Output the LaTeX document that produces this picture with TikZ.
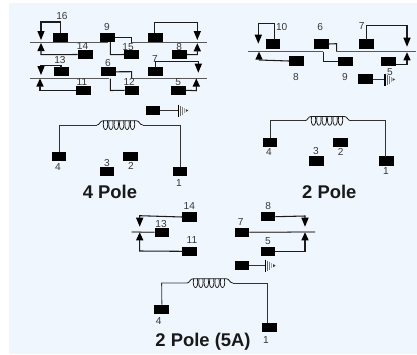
\documentclass[tikz,border=0pt]{standalone}
\usepackage{fontspec}
\setmainfont{Liberation Sans}
\definecolor{bgc}{HTML}{EFF6FD}
\definecolor{wire}{HTML}{1C1C1C}
\tikzset{
  x=0.75pt,y=-0.75pt,
  blk/.style={fill=black,draw=none,minimum width=11.2pt,minimum height=7pt,inner sep=0pt,outer sep=0pt},
  lab/.style={font=\fontsize{7.6pt}{8pt}\selectfont,text=black!78,inner sep=0pt},
  ttl/.style={font=\bfseries\fontsize{13.8pt}{15pt}\selectfont,text=black!90,inner sep=0pt},
  wr/.style={draw=wire,line width=0.8pt},
  lead/.style={draw=black!80,line width=0.7pt},
  bar/.style={draw=black!65,line width=0.95pt}
}
\newcommand{\dn}[2]{\fill[black] (#1-3.7,#2-9) -- (#1+3.7,#2-9) -- (#1,#2) -- cycle;}
\newcommand{\up}[2]{\fill[black] (#1-3.7,#2+8) -- (#1+3.7,#2+8) -- (#1,#2) -- cycle;}
\newcommand{\gnd}[2]{%
  \draw[black,line width=0.95pt] (#1,#2-6) -- (#1,#2+6);
  \draw[black!60,line width=0.6pt] (#1+2,#2-5) -- (#1+2,#2+5);
  \draw[black!50,line width=0.6pt] (#1+4,#2-4) -- (#1+4,#2+4);
  \draw[black!35,line width=0.6pt] (#1+6,#2-2.5) -- (#1+6,#2+2.5);
  \fill[black!75] (#1+7.5,#2-1.5) -- (#1+10,#2) -- (#1+7.5,#2+1.5) -- cycle;}
\newcommand{\coil}[2]{%
  \draw[wire,line width=0.6pt] (#1,#2) .. controls (#1+3,#2) and (#1+2.5,#2-4.3) .. (#1+6.5,#2-4.3)
    -- (#1+39,#2-4.3) .. controls (#1+43,#2-4.3) and (#1+42,#2) .. (#1+46,#2);
  \foreach \k in {0,...,5}{
    \draw[wire,line width=0.55pt] (#1+6.6+\k*5.4,#2-4.3) .. controls (#1+4.6+\k*5.4,#2+7.5) and (#1+12.4+\k*5.4,#2+7.5) .. (#1+10.4+\k*5.4,#2-4.3);}
}
\begin{document}
\begin{tikzpicture}
\useasboundingbox (0,0) rectangle (417,354);
\fill[white] (0,0) rectangle (417,354);
\fill[bgc] (9,3) rectangle (417,354);

% ===== 4 Pole =====
\node[blk] (a16) at (60.8,37.3) {};
\node[blk] (a9) at (107.7,37.3) {};
\node[blk] (aT) at (155.5,37.3) {};
\node[blk] (a14) at (85.2,54.5) {};
\node[blk] (a15) at (131.7,54.5) {};
\node[blk] (a8) at (179.7,54.5) {};
\node[blk] (a13) at (61.7,71.8) {};
\node[blk] (a6) at (108.7,71.8) {};
\node[blk] (a7) at (155.8,71.8) {};
\node[blk] (a11) at (83.5,90.3) {};
\node[blk] (a12) at (132,90.3) {};
\node[blk] (a5) at (178.7,90.3) {};
\node[blk] (agb) at (153,110.5) {};
\node[blk] (a4) at (59,156.7) {};
\node[blk] (a2) at (130.7,156.7) {};
\node[blk] (a3) at (107,171.7) {};
\node[blk] (a1) at (180,171.7) {};

\draw[bar] (30,42.7) -- (108,42.7) (131.7,42.7) -- (207.3,42.7);
\draw[bar] (30,78.5) -- (109,78.5) (131.7,78.5) -- (207.3,78.5);
\draw[wr] (a16.north) -- (60.8,22) -- (41,22) -- (41,33);
\dn{41}{40}\up{41}{43}
\draw[wr] (41,50) -- (41,54.7) -- (a14.west);
\draw[wr] (a9.east) -- (131.7,37.3) -- (131.7,42.7);
\draw[wr] (110.3,42) -- (110.3,54.7) -- (a15.west);
\draw[wr] (154.7,33) -- (154.7,22.3) -- (197.3,22.3) -- (197.3,33);
\dn{197.3}{40}\up{197.3}{43.3}
\draw[wr] (197.3,50) -- (197.3,54.7) -- (a8.east);
\draw[wr] (61,67.5) -- (61,65.3) -- (41,65.3) -- (41,68);
\dn{41}{75}\up{40}{78.5}
\draw[wr] (40,86) -- (40,90.3) -- (a11.west);
\draw[wr] (a6.east) -- (131.7,71.7) -- (131.7,78.5);
\draw[wr] (110.3,78.5) -- (110.3,90.5) -- (a12.west);
\draw[wr] (155.7,67.5) -- (155.7,61.7) -- (198.3,61.7) -- (198.3,66);
\dn{198.3}{72.7}\up{196.3}{78.5}
\draw[wr] (196.3,86) -- (196.3,90.7) -- (a5.east);
\draw[lead] (agb.east) -- (178.3,110.5);
\gnd{178.3}{110.5}
\draw[lead] (a4.north) -- (59,125) -- (97,125);
\coil{97}{125}
\draw[lead] (143,125) -- (180,125) -- (a1.north);

\node[lab] at (62,16) {16};
\node[lab] at (107,27.3) {9};
\node[lab] at (82.5,46.5) {14};
\node[lab] at (128,47.3) {15};
\node[lab] at (179.3,46.7) {8};
\node[lab] at (60,60.3) {13};
\node[lab] at (108,63.3) {6};
\node[lab] at (155,59.3) {7};
\node[lab] at (82,81.7) {11};
\node[lab] at (129.2,81.7) {12};
\node[lab] at (178.3,81.7) {5};
\node[lab] at (58,167) {4};
\node[lab] at (107,163) {3};
\node[lab] at (131,166) {2};
\node[lab] at (179,183) {1};
\node[ttl] at (110,191.7) {4 Pole};

% ===== 2 Pole =====
\node[blk] (b10) at (273,44) {};
\node[blk] (b6) at (321.2,44) {};
\node[blk] (b7) at (366.8,44) {};
\node[blk] (b8) at (296.3,61) {};
\node[blk] (b9) at (345.2,61.3) {};
\node[blk] (b5) at (388.8,61.3) {};
\node[blk] (bgb) at (365.8,79) {};
\node[blk] (b4) at (270,142.3) {};
\node[blk] (b2) at (340.7,142.3) {};
\node[blk] (b3) at (316.3,161) {};
\node[blk] (b1) at (386.7,161) {};

\draw[bar] (248.3,51.7) -- (323.3,51.7) (336.7,51.7) -- (415.7,51.7);
\draw[wr] (274.3,39.5) -- (274.3,23.7) -- (258.3,23.7) -- (258.3,36);
\dn{258.3}{43.7}\up{259}{51.7}
\draw[wr] (259,60) -- (b8.west);
\draw[wr] (b6.east) -- (336.7,43.7) -- (336.7,51.7);
\draw[wr] (323.5,51.7) -- (323.5,61.3) -- (b9.west);
\draw[wr] (366.7,39.5) -- (366.7,25.7) -- (407,25.7) -- (407,39);
\dn{407}{46.7}\up{407}{52.3}
\draw[wr] (407,60) -- (407,64.3) -- (396.3,64.3);
\draw[lead] (bgb.east) -- (385,79);
\gnd{385}{79.5}
\draw[lead] (b4.north) -- (270,120.7) -- (305,120.7);
\coil{305}{120.7}
\draw[lead] (351,120.7) -- (385.7,120.7) -- (385.7,156.5);

\node[lab] at (281.7,26.7) {10};
\node[lab] at (320.3,26.7) {6};
\node[lab] at (361.7,26) {7};
\node[lab] at (296,77) {8};
\node[lab] at (345,77) {9};
\node[lab] at (390,72) {5};
\node[lab] at (269,152.3) {4};
\node[lab] at (316,151.3) {3};
\node[lab] at (340.7,152.3) {2};
\node[lab] at (386,171) {1};
\node[ttl] at (329.3,191.7) {2 Pole};

% ===== 2 Pole (5A) =====
\node[blk] (c14) at (189.7,217) {};
\node[blk] (c13) at (162,232.3) {};
\node[blk] (c11) at (189.7,251.3) {};
\node[blk] (c8) at (268,216.7) {};
\node[blk] (c7) at (242,232.3) {};
\node[blk] (c5) at (268,251.3) {};
\node[blk] (cgb) at (242,265.3) {};
\node[blk] (c4) at (161.8,309.3) {};
\node[blk] (c1) at (269.7,327.3) {};

\draw[bar] (131.7,232) -- (c13.west);
\draw[bar] (c7.east) -- (315,232);
\draw[wr] (c14.west) -- (139.7,215.7) -- (139.7,219);
\dn{139.7}{226.7}\up{139.7}{232.3}
\draw[wr] (139.7,240) -- (139.7,251) -- (c11.west);
\draw[wr] (c8.east) -- (305,216) -- (305,219);
\dn{305}{226.7}\up{305}{232.3}
\draw[wr] (305,240) -- (305,251.3) -- (c5.east);
\draw[lead] (cgb.east) -- (265.7,265.3);
\gnd{265.7}{265.7}
\draw[lead] (c4.north) -- (161.7,283) -- (187,283);
\coil{187}{283}
\draw[lead] (233,283) -- (267.7,283) -- (267.7,322.8);

\node[lab] at (189.3,205.7) {14};
\node[lab] at (161,223.7) {13};
\node[lab] at (192,240.3) {11};
\node[lab] at (268.3,206.3) {8};
\node[lab] at (240.7,222) {7};
\node[lab] at (268,240.7) {5};
\node[lab] at (158.7,320.7) {4};
\node[lab] at (266,340) {1};
\node[ttl] at (203,341.7) {2 Pole (5A)};
\end{tikzpicture}
\end{document}
